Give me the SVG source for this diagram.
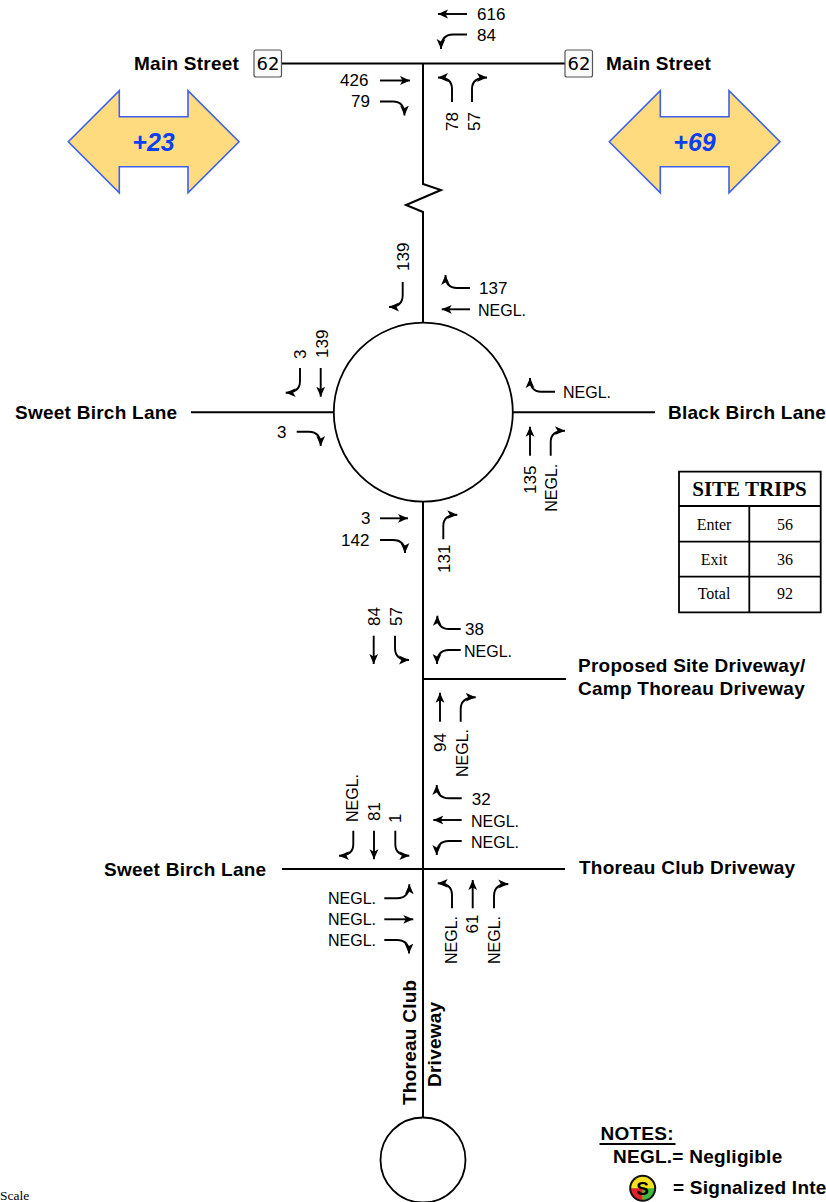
<svg xmlns="http://www.w3.org/2000/svg" width="826" height="1202" viewBox="0 0 826 1202">
<style>
text{font-family:"Liberation Sans",Arial,sans-serif;fill:#000}
.road{fill:none;stroke:#000;stroke-width:2}
.ring{fill:#fff;stroke:#000;stroke-width:1.8}
.a{fill:none;stroke:#000;stroke-width:1.9;marker-end:url(#h)}
.n{font-size:16px}
.d{font-size:17px}
.b{font-size:19px;font-weight:bold;letter-spacing:.25px}
.shield{fill:#fafafa;stroke:#555;stroke-width:1.2}
.st{font-family:"DejaVu Sans",sans-serif;font-size:18px;text-anchor:middle}
.fat{fill:#FFDB80;stroke:#3F60E8;stroke-width:1.6}
.fatt{font-size:25px;font-weight:bold;font-style:italic;fill:#0A40F0;text-anchor:middle}
.tb{fill:none;stroke:#000;stroke-width:1.8}
.tt{font-family:"Liberation Serif",serif;font-size:16px;text-anchor:middle}
.th{font-family:"Liberation Serif",serif;font-size:21px;font-weight:bold;text-anchor:middle}
</style>
<defs>
<marker id="h" markerUnits="userSpaceOnUse" markerWidth="11" markerHeight="10" refX="10" refY="5" orient="auto"><path d="M0 0.6L10 5L0 9.4L2.500 5Z" fill="#000"/></marker>
</defs>
<rect width="826" height="1202" fill="#fff"/>
<g id="connectors">
<path class="road" d="M282 63.5H565"/>
<path class="road" d="M423 63.5V184L441 190L406 205L423 212V323"/>
<path class="road" d="M191 412.3H334M513 412.3H655"/>
<path class="road" d="M423 502V1118"/>
<path class="road" d="M423 679H566"/>
<path class="road" d="M282 869H565"/>
</g>
<g id="turn-arrows">
<path class="a" d="M467 14H438"/>
<path class="a" d="M467 34.5H453Q441 34.5 441 49"/>
<path class="a" d="M380 80.5H410"/>
<path class="a" d="M380 101.5H393Q404.500 101.500 404.500 115.500"/>
<path class="a" d="M452 102V89Q452 77.500 438 77.500"/>
<path class="a" d="M472 102V89Q472 77.500 487 77.500"/>
<path class="a" d="M402.700 282V295Q402.700 307 389 307"/>
<path class="a" d="M470 288H457Q445.500 288 445.500 275"/>
<path class="a" d="M470 309.300H441.700"/>
<path class="a" d="M300 368V381Q300 392.700 285.700 392.700"/>
<path class="a" d="M320.700 368V396.700"/>
<path class="a" d="M296.700 431.700H309Q320.700 431.700 320.700 446"/>
<path class="a" d="M555 391.700H541Q530 391.700 530 378"/>
<path class="a" d="M530 455.700V426.700"/>
<path class="a" d="M550.700 455.700V442Q550.700 430.700 565 430.700"/>
<path class="a" d="M380 518.300H408"/>
<path class="a" d="M380 540H393Q405 540 405 553"/>
<path class="a" d="M443.300 539.300V526Q443.300 514.700 457.300 514.700"/>
<path class="a" d="M373.700 635.700V664"/>
<path class="a" d="M395 635.700V648Q395 660 409 660"/>
<path class="a" d="M460.700 629H449Q437.300 629 437.300 615.700"/>
<path class="a" d="M460.700 650H449Q437 650 437 664"/>
<path class="a" d="M440 721.700V692.700"/>
<path class="a" d="M460.700 721.700V709Q460.700 697.300 475.700 697.300"/>
<path class="a" d="M353.300 830.700V844Q353.300 855.700 339 855.700"/>
<path class="a" d="M374 830.700V859.300"/>
<path class="a" d="M395.300 830.700V844Q395.300 855.700 409.300 855.700"/>
<path class="a" d="M461.700 798.300H449Q436.700 798.300 436.700 785"/>
<path class="a" d="M461.700 820H433.300"/>
<path class="a" d="M461.700 841H449Q436.700 841 436.700 855"/>
<path class="a" d="M384.300 898.300H397Q409.300 898.300 409.300 884.300"/>
<path class="a" d="M384.300 919.300H413.300"/>
<path class="a" d="M384.300 940H397Q409 940 409 953.500"/>
<path class="a" d="M452 908.300V895Q452 883.300 437.700 883.300"/>
<path class="a" d="M472.700 908.300V880"/>
<path class="a" d="M494 908.300V896Q494 884 508.300 884"/>
</g>
<g id="roundabout"><circle class="ring" cx="423.300" cy="412.200" r="89.500"/></g>
<g id="cul-de-sac"><circle class="ring" cx="423" cy="1160" r="42.500"/></g>
<g id="shield-west"><rect class="shield" x="254" y="50" width="27.500" height="27" rx="2"/><text class="st" x="268" y="70">62</text></g>
<g id="shield-east"><rect class="shield" x="565" y="50" width="27.500" height="27" rx="2"/><text class="st" x="579" y="70">62</text></g>
<g id="arrow-west"><path class="fat" d="M68.300 141.700L119.300 90.700V116.700H188V90.700L239 141.700L188 192.700V166.700H119.300V192.700Z"/><text class="fatt" x="153.500" y="150.500">+23</text></g>
<g id="arrow-east"><path class="fat" d="M609.300 141.700L660.300 90.700V116.700H729V90.700L780 141.700L729 192.700V166.700H660.300V192.700Z"/><text class="fatt" x="694.500" y="150.500">+69</text></g>
<g id="road-labels">
<text class="b" x="134" y="70">Main Street</text>
<text class="b" x="606" y="70">Main Street</text>
<text class="b" x="15" y="419">Sweet Birch Lane</text>
<text class="b" x="668" y="419">Black Birch Lane</text>
<text class="b" x="578" y="672">Proposed Site Driveway/</text>
<text class="b" x="578" y="695">Camp Thoreau Driveway</text>
<text class="b" x="104" y="876">Sweet Birch Lane</text>
<text class="b" x="579" y="874">Thoreau Club Driveway</text>
<text class="b" transform="translate(416 1105) rotate(-90)">Thoreau Club</text>
<text class="b" transform="translate(441 1087) rotate(-90)">Driveway</text>
</g>
<g id="volumes">
<text class="d" x="477" y="20">616</text>
<text class="d" x="477" y="41">84</text>
<text class="d" x="340" y="86">426</text>
<text class="d" x="351" y="107">79</text>
<text class="d" transform="translate(457.500 131) rotate(-90)">78</text>
<text class="d" transform="translate(479.500 131) rotate(-90)">57</text>
<text class="d" transform="translate(408.500 271) rotate(-90)">139</text>
<text class="d" x="479" y="294">137</text>
<text class="n" x="478" y="316">NEGL.</text>
<text class="d" transform="translate(306 359) rotate(-90)">3</text>
<text class="d" transform="translate(327.500 358) rotate(-90)">139</text>
<text class="d" x="277" y="438">3</text>
<text class="n" x="563" y="398">NEGL.</text>
<text class="d" transform="translate(536 494) rotate(-90)">135</text>
<text class="n" transform="translate(556.700 511.700) rotate(-90)">NEGL.</text>
<text class="d" x="361" y="524">3</text>
<text class="d" x="341" y="546">142</text>
<text class="d" transform="translate(449.500 573) rotate(-90)">131</text>
<text class="d" transform="translate(380 626) rotate(-90)">84</text>
<text class="d" transform="translate(402 626) rotate(-90)">57</text>
<text class="d" x="465" y="635">38</text>
<text class="n" x="464" y="656.700">NEGL.</text>
<text class="d" transform="translate(446 752) rotate(-90)">94</text>
<text class="n" transform="translate(468.300 777) rotate(-90)">NEGL.</text>
<text class="d" x="471.700" y="805">32</text>
<text class="n" x="471" y="826.700">NEGL.</text>
<text class="n" x="471" y="847.700">NEGL.</text>
<text class="n" transform="translate(358.300 822) rotate(-90)">NEGL.</text>
<text class="d" transform="translate(380 821) rotate(-90)">81</text>
<text class="d" transform="translate(401 823) rotate(-90)">1</text>
<text class="n" x="328" y="904">NEGL.</text>
<text class="n" x="328" y="925">NEGL.</text>
<text class="n" x="328" y="946">NEGL.</text>
<text class="n" transform="translate(457.300 964) rotate(-90)">NEGL.</text>
<text class="d" transform="translate(478.300 933.500) rotate(-90)">61</text>
<text class="n" transform="translate(500 964) rotate(-90)">NEGL.</text>
</g>
<g id="site-trips">
<path class="tb" d="M679 471.700H820.700V612.300H679ZM679 506H820.700M679 541.700H820.700M679 576.700H820.700M749.300 506V612.300"/>
<text class="th" x="749.500" y="495.700">SITE TRIPS</text>
<text class="tt" x="714" y="530">Enter</text><text class="tt" x="785" y="530">56</text>
<text class="tt" x="714" y="565">Exit</text><text class="tt" x="785" y="565">36</text>
<text class="tt" x="714" y="599">Total</text><text class="tt" x="785" y="599">92</text>
</g>
<g id="notes">
<text class="b" x="600.500" y="1139.500">NOTES:</text>
<path d="M599.500 1144H675.500" stroke="#000" stroke-width="1.800"/>
<text class="b" x="613" y="1163">NEGL.= Negligible</text>
<text class="b" x="673" y="1193.500">= Signalized Inte</text>
</g>
<g id="signal-icon">
<circle cx="642.700" cy="1188.300" r="12.500" fill="#F5E020"/>
<path d="M630.200 1188.300H642.700L642.700 1200.800A12.500 12.500 0 0 1 630.200 1188.300Z" fill="#E0202A"/>
<path d="M642.700 1188.300H655.200A12.500 12.500 0 0 1 642.700 1200.800Z" fill="#3CB83C"/>
<circle cx="642.700" cy="1188.300" r="12.500" fill="none" stroke="#111" stroke-width="2"/>
<text x="642.700" y="1195" text-anchor="middle" font-size="19" font-weight="bold">S</text>
</g>
<g id="scale-label"><text x="0" y="1200" style="font-family:'Liberation Serif',serif;font-size:13.500px">Scale</text></g>
</svg>
